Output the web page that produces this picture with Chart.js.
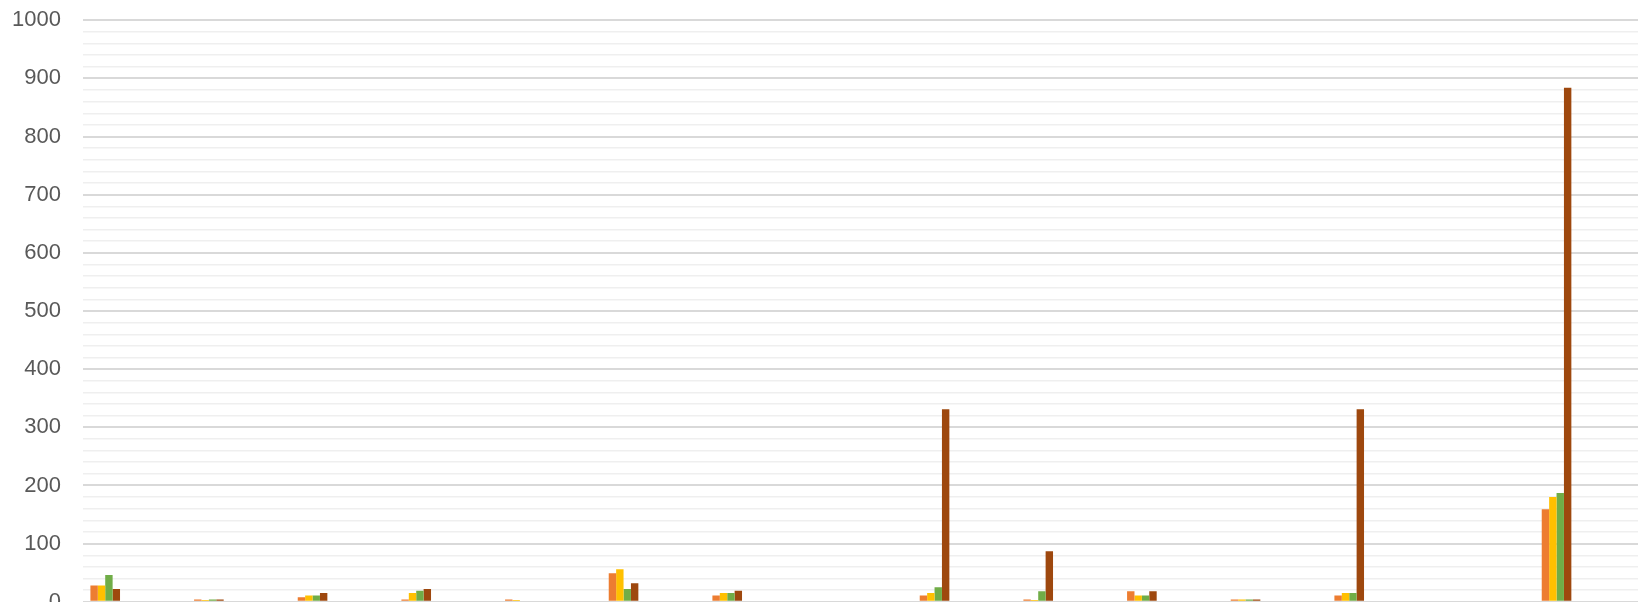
<!DOCTYPE html>
<html>
<head>
<meta charset="utf-8">
<script src="https://cdn.jsdelivr.net/npm/chart.js@4"></script>
<style>
  html, body { margin: 0; padding: 0; background: #fff; overflow: hidden; }
  #wrap { position: relative; width: 1638px; height: 652px; margin-top: -15px; }
</style>
</head>
<body>
<div id="wrap"><canvas id="chart"></canvas></div>
<script>
// categories (labels are outside the visible crop)
const categories = ["1", "2", "3", "4", "5", "6", "7", "8", "9", "10", "11", "12", "13", "14", "15"];

const seriesA = [28, 4, 8, 4, 4, 49, 11, 0, 11, 4, 18, 4, 11, 0, 159];
const seriesB = [28, 3, 11, 15, 3, 56, 15, 0, 15, 3, 11, 4, 15, 0, 180];
const seriesC = [46, 4, 11, 19, 0, 22, 15, 0, 25, 18, 11, 4, 15, 0, 187];
const seriesD = [22, 4, 15, 22, 0, 32, 19, 0, 331, 87, 18, 4, 331, 0, 884];

// the original has further series slots with no values, which keeps the bars at the left of each group
const emptySlots = 8;

const yTicks = [0, 100, 200, 300, 400, 500, 600, 700, 800, 900, 1000];

document.addEventListener("DOMContentLoaded", () => {
    const datasets = [
        { label: "A", data: seriesA, backgroundColor: "#ED7D31" },
        { label: "B", data: seriesB, backgroundColor: "#FFC000" },
        { label: "C", data: seriesC, backgroundColor: "#70AD47" },
        { label: "D", data: seriesD, backgroundColor: "#9E480E" }
    ];
    for (let i = 0; i < emptySlots; i++) {
        datasets.push({ label: "", data: [], backgroundColor: "transparent" });
    }

    const ctx = document.getElementById("chart").getContext("2d");
    new Chart(ctx, {
        type: "bar",
        data: { labels: categories, datasets: datasets },
        options: {
            responsive: true,
            maintainAspectRatio: false,
            animation: false,
            layout: { padding: { top: 5, right: 0, left: 0, bottom: 0 } },
            plugins: { legend: { display: false }, tooltip: { enabled: false } },
            datasets: { bar: { categoryPercentage: 12 / 14, barPercentage: 1 } },
            scales: {
                x: { display: false, grid: { display: false } },
                y: {
                    min: 0,
                    max: 1000,
                    border: { display: false },
                    afterFit: (scale) => { scale.width = 83; },
                    grid: {
                        drawTicks: false,
                        color: (c) => (c.tick && yTicks.includes(c.tick.value)) ? "#d9d9d9" : "#efefef",
                        lineWidth: (c) => (c.tick && yTicks.includes(c.tick.value)) ? 2 : 1.5
                    },
                    ticks: {
                        stepSize: 20,
                        autoSkip: false,
                        padding: 22,
                        color: "#595959",
                        font: { family: "Liberation Sans", size: 22 },
                        callback: (v) => yTicks.includes(v) ? String(v) : ""
                    }
                }
            }
        }
    });
});
</script>
</body>
</html>
